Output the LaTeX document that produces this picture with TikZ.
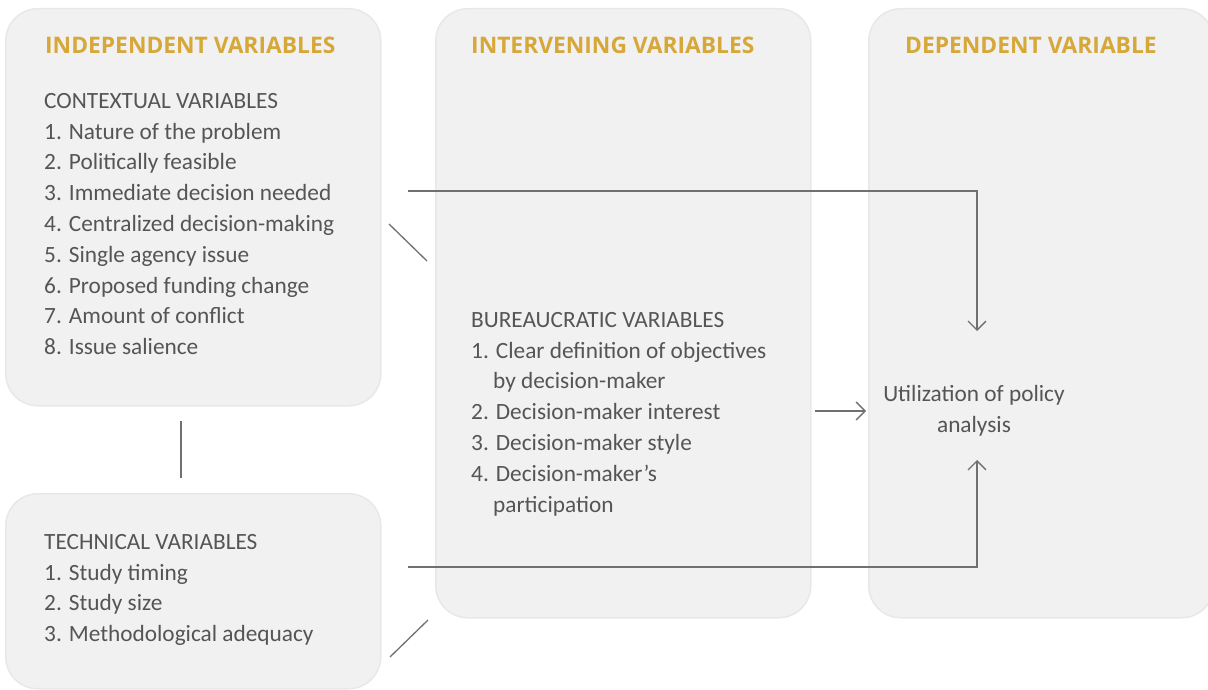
\documentclass[tikz,border=0pt]{standalone}
\usepackage{fontspec}
\setmainfont{Carlito}
\newfontfamily\headfont{Open Sans}
\usetikzlibrary{arrows.meta}

\definecolor{panelgray}{RGB}{241,241,241}
\definecolor{panelline}{RGB}{232,232,232}
\definecolor{headgold}{RGB}{214,168,58}
\definecolor{textgray}{RGB}{85,85,85}
\definecolor{linegray}{RGB}{112,112,112}

\tikzset{
	panel/.style={draw=panelline, line width=1.5pt, fill=panelgray,
		rounded corners=32pt, inner sep=0pt, anchor=north west},
	heading/.style={anchor=west, inner sep=0pt, text=headgold,
		font=\headfont\bfseries\fontsize{22.8}{26}\selectfont},
	listtext/.style={anchor=north west, inner sep=0pt, align=left, text=textgray,
		font=\fontsize{23.3}{30.8}\selectfont},
	link/.style={draw=linegray, line width=1.3pt},
	arrowlink/.style={link, -{Straight Barb[length=9pt,width=18pt]}}
}

\begin{document}
\begin{tikzpicture}[x=1pt,y=-1pt]
	% Rahmen
	\useasboundingbox (0,0) rectangle (1208,690);
	
	% Hintergrundflaechen
	\node[panel, minimum width=375pt, minimum height=397pt] (context) at (5,8) {};
	\node[panel, minimum width=375pt, minimum height=195pt] (technical) at (5,493) {};
	\node[panel, minimum width=375pt, minimum height=609pt] (interv) at (435,8) {};
	\node[panel, minimum width=345pt, minimum height=609pt] (depend) at (868,8) {};
	
	% Ueberschriften
	\node[heading] (hindep) at (45,45) {INDEPENDENT VARIABLES};
	\node[heading] (hinterv) at (471,45) {INTERVENING VARIABLES};
	\node[heading] (hdepend) at (905,45) {DEPENDENT VARIABLE};
	
	% Listen
	\node[listtext] (ctxlist) at (44,93)
	{CONTEXTUAL VARIABLES\\1. Nature of the problem\\2. Politically feasible\\
		3. Immediate decision needed\\4. Centralized decision-making\\
		5. Single agency issue\\6. Proposed funding change\\
		7. Amount of conflict\\8. Issue salience};
	
	\node[listtext] (techlist) at (44,534)
	{TECHNICAL VARIABLES\\1. Study timing\\2. Study size\\3. Methodological adequacy};
	
	\node[listtext] (burlist) at (471,312)
	{BUREAUCRATIC VARIABLES\\1. Clear definition of objectives\\
		\hspace*{22pt}by decision-maker\\2. Decision-maker interest\\
		3. Decision-maker style\\4. Decision-maker’s\\
		\hspace*{22pt}participation};
	
	\node[listtext, anchor=center, align=center] (result) at (974,411)
	{Utilization of policy\\analysis};
	
	% Verbindungen
	\coordinate (ctxout) at (408,191);
	\coordinate (ctxdown) at (977,331);
	\coordinate (techout) at (408,567);
	\coordinate (techup) at (977,460);
	\coordinate (burout) at (815,411);
	\coordinate (burin) at (866,411);
	\coordinate (diagA) at (389,224);
	\coordinate (diagB) at (427,261);
	\coordinate (diagC) at (390,657);
	\coordinate (diagD) at (428,620);
	\coordinate (vertA) at (181,421);
	\coordinate (vertB) at (181,478);
	
	\draw[arrowlink] (ctxout) -| (ctxdown);
	\draw[arrowlink] (techout) -| (techup);
	\draw[arrowlink] (burout) -- (burin);
	\draw[link] (diagA) -- (diagB);
	\draw[link] (diagC) -- (diagD);
	\draw[link] (vertA) -- (vertB);
\end{tikzpicture}
\end{document}
